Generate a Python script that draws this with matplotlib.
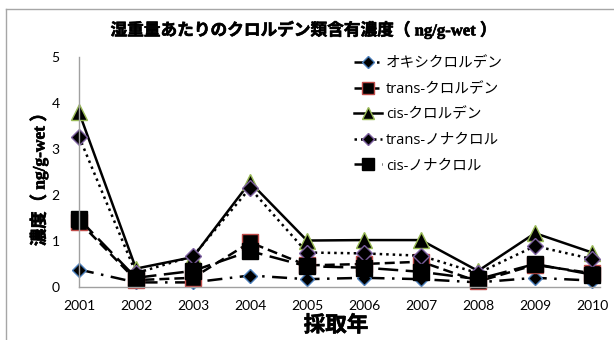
import matplotlib
matplotlib.use("Agg")
import matplotlib.pyplot as plt
from matplotlib.lines import Line2D
import matplotlib.patheffects as pe

plt.rcParams['font.family'] = ['Lato', 'Noto Sans CJK JP', 'DejaVu Sans']

years = ['2001', '2002', '2003', '2004', '2005', '2006', '2007', '2008', '2009', '2010']
labels = ['オキシクロルデン', 'trans-クロルデン', 'cis-クロルデン', 'trans-ノナクロル', 'cis-ノナクロル']
oxychlordane = [0.38, 0.10, 0.10, 0.25, 0.17, 0.20, 0.17, 0.10, 0.20, 0.14]
trans_chlordane = [1.42, 0.15, 0.20, 0.97, 0.47, 0.50, 0.55, 0.12, 0.48, 0.30]
cis_chlordane = [3.80, 0.40, 0.65, 2.28, 1.01, 1.02, 1.02, 0.35, 1.17, 0.75]
trans_nonachlor = [3.27, 0.30, 0.67, 2.15, 0.75, 0.73, 0.68, 0.30, 0.89, 0.61]
cis_nonachlor = [1.48, 0.20, 0.35, 0.78, 0.45, 0.42, 0.33, 0.17, 0.50, 0.27]
series = [oxychlordane, trans_chlordane, cis_chlordane, trans_nonachlor, cis_nonachlor]

styles = [
    dict(ls=(0, (6, 3, 1, 3)), marker='D', ms=7.5, mec='#4A7EBB'),
    dict(ls=(0, (4, 2)), marker='s', ms=11, mec='#BE4B48'),
    dict(ls='-', marker='^', ms=11, mec='#98B954'),
    dict(ls=(0, (1, 1.6)), marker='D', ms=8, mec='#7D60A0'),
    dict(ls=(0, (8, 3)), marker='s', ms=11, mec='#000000'),
]

fig = plt.figure(figsize=(6.14, 3.40), dpi=100)
ax = fig.add_axes([79/614, 1-287/340, 521/614, 230/340])

x = list(range(len(years)))
handles = []
for vals, lab, st in zip(series, labels, styles):
    ln, = ax.plot(x, vals, color='black', lw=1.8, ls=st['ls'], marker=st['marker'],
                  ms=st['ms'], mfc='black', mec=st['mec'], mew=1.0,
                  clip_on=False, label=lab)
    handles.append(ln)

ax.set_xlim(0, 9.14)
ax.set_ylim(0, 5)
ax.set_yticks([0, 1, 2, 3, 4, 5])
ax.set_xticks(x)
ax.set_xticklabels(years)
ax.tick_params(axis='both', length=0, labelsize=10, colors='black')
ax.tick_params(axis='y', pad=14)
ax.tick_params(axis='x', pad=9)
for s in ['top', 'right']:
    ax.spines[s].set_visible(False)
for s in ['left', 'bottom']:
    ax.spines[s].set_color('#A0A0A0')
    ax.spines[s].set_linewidth(1.0)

leg = ax.legend(handles=handles, loc='upper left', bbox_to_anchor=(262/521, 1.06),
                frameon=False, handlelength=1.9, handletextpad=0.3,
                labelspacing=0.72, markerscale=0.75,
                prop={'family': ['Open Sans', 'Noto Sans CJK JP'], 'size': 10.5})

bold = [pe.withStroke(linewidth=0.45, foreground='black')]
fig.text(303/614, 1-30/340, '湿重量あたりのクロルデン類含有濃度（ ng/g-wet ）',
         ha='center', va='center', fontsize=12, fontweight='bold',
         family=['Liberation Serif', 'Noto Sans CJK JP'], path_effects=bold)
fig.text(39/614, 1-175/340, '濃度（ ng/g-wet ）', ha='center', va='center', rotation=90,
         fontsize=12.5, fontweight='bold', family=['Liberation Serif', 'Noto Sans CJK JP'],
         path_effects=bold)
fig.text(336/614, 1-325/340, '採取年', ha='center', va='center', fontsize=15.5,
         fontweight='bold', family=['Noto Sans CJK JP'], path_effects=bold)

fig.add_artist(Line2D([6/614, 1.0], [1-9/340, 1-9/340], color='#A6A6A6', lw=1.0))
fig.add_artist(Line2D([6/614, 6/614], [0, 1-9/340], color='#A6A6A6', lw=1.0))

fig.savefig('out.png', dpi=100)
